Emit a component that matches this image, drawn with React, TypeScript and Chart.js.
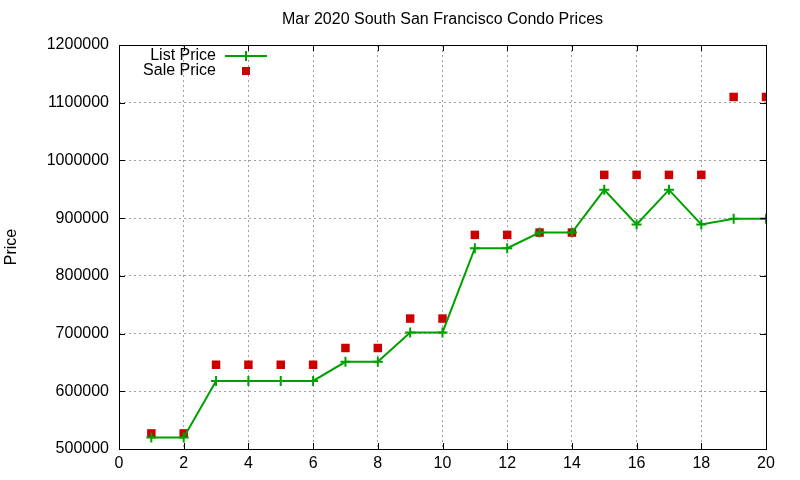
import { useEffect, useRef } from 'react';
import { Chart, registerables, type ChartConfiguration, type Plugin } from 'chart.js';

Chart.register(...registerables);

const CHART_TITLE = 'Mar 2020 South San Francisco Condo Prices';
const Y_TITLE = 'Price';
const UNITS = [1, 2, 3, 4, 5, 6, 7, 8, 9, 10, 11, 12, 13, 14, 15, 16, 17, 18, 19, 20];
const LIST_PRICE = [
  520000, 520000, 618000, 618000, 618000, 618000, 651000, 651000, 702000, 702000,
  848000, 848000, 875000, 875000, 949000, 889000, 949000, 889000, 899000, 899000,
];
const SALE_PRICE = [
  527000, 527000, 646000, 646000, 646000, 646000, 675000, 675000, 726000, 726000,
  871000, 871000, 875000, 875000, 975000, 975000, 975000, 975000, 1110000, 1110000,
];

const FONT = "'Liberation Sans', Arial, sans-serif";
const GREEN = '#00a000';
const RED = '#cc0000';

// gnuplot-ish frame, inward ticks, title, y label and the legend box
const framePlugin: Plugin<'line'> = {
  id: 'gnuFrame',
  afterDatasetsDraw(chart) {
    const { ctx, chartArea: a, scales } = chart;
    const x = scales['x'];
    const y = scales['y'];
    ctx.save();
    ctx.strokeStyle = '#000';
    ctx.lineWidth = 1;
    ctx.strokeRect(a.left + 0.5, a.top + 0.5, a.right - a.left, a.bottom - a.top);

    ctx.beginPath();
    x.ticks.forEach((t) => {
      const px = Math.round(x.getPixelForValue(t.value)) + 0.5;
      ctx.moveTo(px, a.bottom);
      ctx.lineTo(px, a.bottom - 6);
      ctx.moveTo(px, a.top);
      ctx.lineTo(px, a.top + 6);
    });
    y.ticks.forEach((t) => {
      const py = Math.round(y.getPixelForValue(t.value)) + 0.5;
      ctx.moveTo(a.left, py);
      ctx.lineTo(a.left + 6, py);
      ctx.moveTo(a.right, py);
      ctx.lineTo(a.right - 6, py);
    });
    ctx.stroke();

    ctx.fillStyle = '#000';
    ctx.font = `16px ${FONT}`;
    ctx.textAlign = 'center';
    ctx.textBaseline = 'middle';
    ctx.fillText(CHART_TITLE, (a.left + a.right) / 2, 20);

    ctx.save();
    ctx.translate(12, (a.top + a.bottom) / 2);
    ctx.rotate(-Math.PI / 2);
    ctx.fillText(Y_TITLE, 0, 0);
    ctx.restore();

    // legend
    const ds = chart.data.datasets;
    const textRight = a.left + 97;
    const sampleX = a.left + 127;
    ctx.textAlign = 'right';
    ctx.fillText(String(ds[0].label), textRight, a.top + 11);
    ctx.fillText(String(ds[1].label), textRight, a.top + 26);

    ctx.strokeStyle = GREEN;
    ctx.lineWidth = 2;
    ctx.beginPath();
    ctx.moveTo(sampleX - 21, a.top + 11);
    ctx.lineTo(sampleX + 21, a.top + 11);
    ctx.moveTo(sampleX, a.top + 6);
    ctx.lineTo(sampleX, a.top + 16);
    ctx.stroke();

    ctx.fillStyle = RED;
    ctx.fillRect(sampleX - 4, a.top + 22, 8, 8);
    ctx.restore();
  },
};

export default function App() {
  const canvasRef = useRef<HTMLCanvasElement>(null);

  useEffect(() => {
    if (!canvasRef.current) return;

    const config: ChartConfiguration<'line'> = {
      type: 'line',
      data: {
        labels: UNITS,
        datasets: [
          {
            label: 'List Price',
            data: UNITS.map((u, i) => ({ x: u, y: LIST_PRICE[i] })),
            borderColor: GREEN,
            backgroundColor: GREEN,
            borderWidth: 2,
            pointStyle: 'cross',
            pointRadius: 5,
            pointBorderWidth: 2,
            pointBorderColor: GREEN,
            tension: 0,
          },
          {
            label: 'Sale Price',
            data: UNITS.map((u, i) => ({ x: u, y: SALE_PRICE[i] })),
            showLine: false,
            borderColor: RED,
            backgroundColor: RED,
            pointStyle: 'rect',
            pointRadius: 6,
            pointBorderWidth: 0,
          },
        ],
      },
      options: {
        responsive: false,
        animation: false,
        layout: { padding: { top: 45, right: 34, bottom: 0, left: 0 } },
        scales: {
          x: {
            type: 'linear',
            min: 0,
            max: 20,
            ticks: {
              stepSize: 2,
              color: '#000',
              padding: 5,
              font: { family: FONT, size: 16 },
            },
            grid: { color: '#a0a0a0', drawTicks: false, lineWidth: 1 },
            border: { display: false, dash: [2, 3] },
            afterFit: (s) => {
              s.height = 31;
            },
          },
          y: {
            min: 500000,
            max: 1200000,
            ticks: {
              stepSize: 100000,
              color: '#000',
              padding: 10,
              font: { family: FONT, size: 16 },
              callback: (v) => String(v),
            },
            grid: { color: '#a0a0a0', drawTicks: false, lineWidth: 1 },
            border: { display: false, dash: [2, 3] },
            afterFit: (s) => {
              s.width = 119;
            },
          },
        },
        plugins: {
          legend: { display: false },
          title: { display: false },
          tooltip: { enabled: false },
        },
      },
      plugins: [framePlugin],
    };

    const chart = new Chart(canvasRef.current, config);
    return () => {
      chart.destroy();
    };
  }, []);

  return (
    <div style={{ position: 'absolute', left: 0, top: 0, width: 800, height: 480, background: '#fff' }}>
      <canvas ref={canvasRef} width={800} height={480} />
    </div>
  );
}
